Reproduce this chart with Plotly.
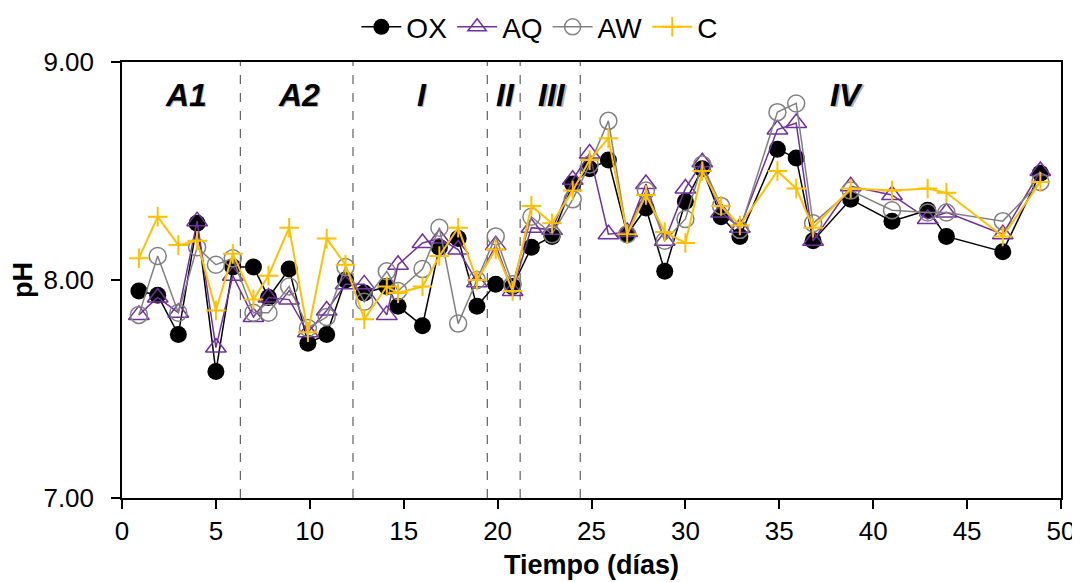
import plotly.graph_objects as go

days = [0.9, 1.9, 3.0, 4.0, 5.0, 5.9, 7.0, 7.8, 8.9, 9.9, 10.9, 11.9, 12.9, 14.1, 14.7,
        16.0, 16.9, 17.9, 18.9, 19.9, 20.8, 21.8, 22.9, 24.0, 24.9, 25.9, 26.9, 27.9,
        28.9, 30.0, 30.9, 31.9, 32.9, 34.9, 35.9, 36.8, 38.8, 41.0, 42.9, 43.9, 46.9, 48.9]

ox = [7.95, 7.93, 7.75, 8.26, 7.58, 8.06, 8.06, 7.92, 8.05, 7.71, 7.75, 8.00, 7.94, 7.97, 7.88,
      7.79, 8.15, 8.19, 7.88, 7.98, 7.97, 8.15, 8.20, 8.44, 8.51, 8.55, 8.21, 8.33,
      8.04, 8.36, 8.51, 8.29, 8.20, 8.60, 8.56, 8.18, 8.37, 8.27, 8.32, 8.20, 8.13, 8.49]

aq = [7.84, 7.92, 7.85, 8.27, 7.69, 8.02, 7.83, 7.92, 7.91, 7.76, 7.86, 7.98, 7.98, 7.84, 8.07,
      8.17, 8.19, 8.14, 7.99, 8.16, 7.95, 8.24, 8.23, 8.46, 8.58, 8.21, 8.22, 8.44,
      8.18, 8.42, 8.54, 8.31, 8.24, 8.69, 8.72, 8.18, 8.43, 8.39, 8.28, 8.31, 8.21, 8.50]

aw = [7.84, 8.11, 7.85, 8.15, 8.07, 8.10, 7.85, 7.85, 7.97, 7.78, 7.83, 8.06, 7.90, 8.04, 7.95,
      8.05, 8.24, 7.80, 8.00, 8.20, 7.98, 8.29, 8.21, 8.37, 8.53, 8.73, 8.21, 8.41,
      8.18, 8.28, 8.53, 8.34, 8.23, 8.77, 8.81, 8.26, 8.41, 8.32, 8.31, 8.31, 8.27, 8.45]

c = [8.10, 8.29, 8.16, 8.18, 7.86, 8.12, 7.91, 8.02, 8.24, 7.76, 8.19, 8.07, 7.82, 7.97, 7.94,
     7.97, 8.11, 8.24, 8.00, 8.14, 7.95, 8.34, 8.26, 8.41, 8.55, 8.65, 8.21, 8.39,
     8.22, 8.17, 8.50, 8.34, 8.25, 8.50, 8.42, 8.24, 8.42, 8.41, 8.42, 8.40, 8.20, 8.45]

phase_bounds = [6.3, 12.3, 19.45, 21.2, 24.4]
phase_labels = ["A1", "A2", "I", "II", "III", "IV"]
phase_label_x = [3.4, 9.4, 15.95, 20.4, 22.9, 38.6]

FONT = "Liberation Sans, Arial, sans-serif"

fig = go.Figure()

fig.add_trace(go.Scatter(
    x=days, y=ox, name="OX", mode="lines+markers",
    line=dict(color="black", width=1.5),
    marker=dict(symbol="circle", size=17, color="black"),
))
fig.add_trace(go.Scatter(
    x=days, y=aq, name="AQ", mode="lines+markers",
    line=dict(color="#7030A0", width=1.5),
    marker=dict(symbol="triangle-up-open", size=18, color="#7030A0", line=dict(width=1.5, color="#7030A0")),
))
fig.add_trace(go.Scatter(
    x=days, y=aw, name="AW", mode="lines+markers",
    line=dict(color="#808080", width=1.5),
    marker=dict(symbol="circle-open", size=17, color="#808080", line=dict(width=1.5, color="#808080")),
))
fig.add_trace(go.Scatter(
    x=days, y=c, name="C", mode="lines+markers",
    line=dict(color="#FFC000", width=2),
    marker=dict(symbol="cross-thin-open", size=14, color="#FFC000", line=dict(width=2, color="#FFC000")),
))

for xb in phase_bounds:
    fig.add_shape(type="line", xref="x", yref="y", x0=xb, x1=xb, y0=7, y1=9,
                  line=dict(color="#404040", width=1, dash="dash"), layer="below")

for lab, lx in zip(phase_labels, phase_label_x):
    fig.add_annotation(x=lx, y=8.85, xref="x", yref="y", text="<b><i>" + lab + "</i></b>",
                       showarrow=False, xshift=1.5, yshift=-1.5,
                       font=dict(family=FONT, size=32, color="rgba(0,0,0,0.3)"))
    fig.add_annotation(x=lx, y=8.85, xref="x", yref="y", text="<b><i>" + lab + "</i></b>",
                       showarrow=False,
                       font=dict(family=FONT, size=32, color="black"))

# The page body has an 8px default margin, so the figure is sized to end at the window edge.
fig.update_layout(
    width=1072, height=574,
    margin=dict(l=114, r=19, t=54, b=84, autoexpand=False),
    paper_bgcolor="white", plot_bgcolor="white",
    font=dict(family=FONT, size=26, color="black"),
    showlegend=True,
    legend=dict(orientation="h", x=0.445, xanchor="center", y=1.08, yanchor="middle",
                font=dict(family=FONT, size=28, color="black"),
                bgcolor="rgba(0,0,0,0)", itemwidth=40, tracegroupgap=0),
    xaxis=dict(range=[0, 50], dtick=5, tick0=0, showgrid=False, zeroline=False,
               showline=True, linecolor="black", linewidth=1.5, mirror=True,
               ticks="outside", ticklen=9, tickcolor="black", tickwidth=1.5,
               tickfont=dict(family=FONT, size=26),
               title=dict(text="<b>Tiempo (días)</b>", font=dict(family=FONT, size=27), standoff=10)),
    yaxis=dict(range=[7, 9], dtick=1, tick0=7, tickformat=".2f", showgrid=False, zeroline=False,
               showline=True, linecolor="black", linewidth=1.5, mirror=True,
               ticks="outside", ticklen=9, tickcolor="black", tickwidth=1.5,
               tickfont=dict(family=FONT, size=26), ticklabelstandoff=12,
               title=dict(text="<b>pH</b>", font=dict(family=FONT, size=27), standoff=4)),
)

fig.write_html("out.html")
